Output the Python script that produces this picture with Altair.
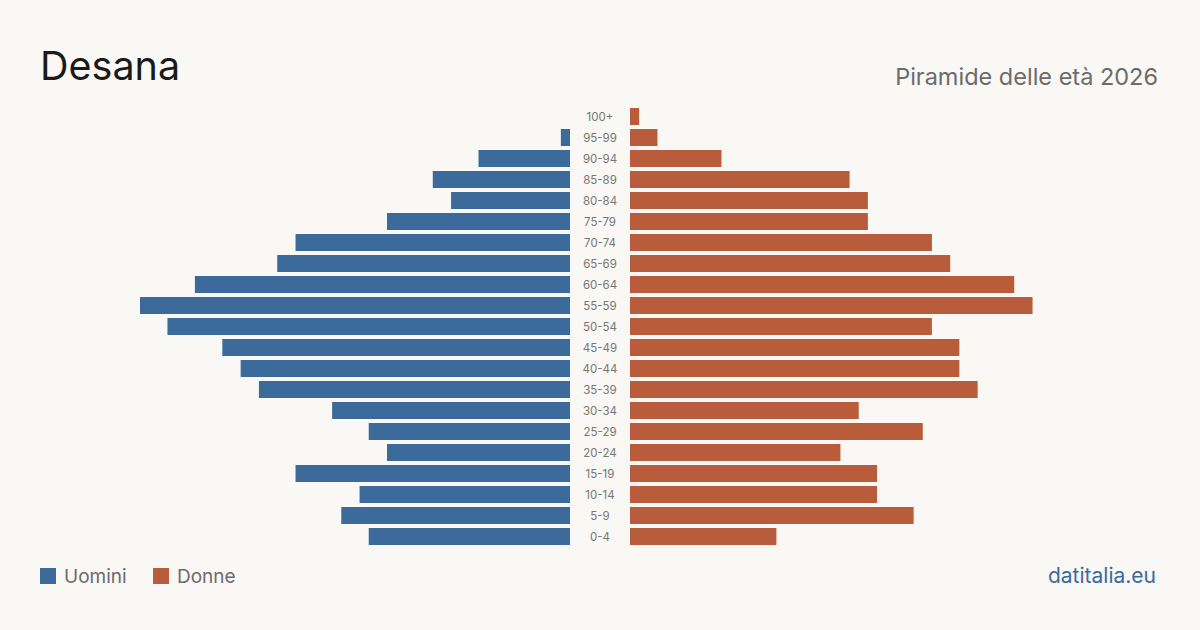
import altair as alt
import pandas as pd

# Age groups, from oldest (top) to youngest (bottom)
ages = ["100+", "95-99", "90-94", "85-89", "80-84", "75-79", "70-74", "65-69",
        "60-64", "55-59", "50-54", "45-49", "40-44", "35-39", "30-34", "25-29",
        "20-24", "15-19", "10-14", "5-9", "0-4"]
uomini = [0, 1, 10, 15, 13, 20, 30, 32, 41, 47, 44, 38, 36, 34, 26, 22, 20, 30, 23, 25, 22]
donne = [1, 3, 10, 24, 26, 26, 33, 35, 42, 44, 33, 36, 36, 38, 25, 32, 23, 27, 27, 31, 16]

BLUE = "#3b6a9b"
ORANGE = "#b95c3c"
BG = "#f9f8f4"
FONT = "Inter"

df = pd.DataFrame({"eta": ages, "uomini": uomini, "donne": donne})
vmax = max(max(uomini), max(donne))

y_enc = alt.Y("eta:N", sort=ages, axis=None,
              scale=alt.Scale(range=[106, 547], paddingInner=0.19, paddingOuter=0.095))

base = alt.Chart(df)

men = base.mark_bar(color=BLUE).encode(
    y=y_enc,
    x=alt.X("uomini:Q", axis=None, scale=alt.Scale(domain=[0, vmax], range=[570, 140])),
    x2=alt.datum(0),
)

women = base.mark_bar(color=ORANGE).encode(
    y=y_enc,
    x=alt.X("donne:Q", axis=None, scale=alt.Scale(domain=[0, vmax], range=[630, 1060])),
    x2=alt.datum(0),
)

labels = base.mark_text(font=FONT, fontSize=11.5, color="#777777",
                        align="center", baseline="middle", dy=1.5).encode(
    y=y_enc,
    x=alt.value(600),
    text="eta:N",
)

one = pd.DataFrame({"k": [0]})
ann = alt.Chart(one)

title = ann.mark_text(font=FONT, fontSize=39.5, color="#1a1a1a", align="left",
                      baseline="alphabetic").encode(
    x=alt.value(40), y=alt.value(80), text=alt.value("Desana"))

subtitle = ann.mark_text(font=FONT, fontSize=23.5, color="#6b6b6b", align="right",
                         baseline="alphabetic").encode(
    x=alt.value(1158), y=alt.value(85), text=alt.value("Piramide delle età 2026"))

source = ann.mark_text(font=FONT, fontSize=21, color="#3a6a9e", align="right",
                       baseline="alphabetic").encode(
    x=alt.value(1156), y=alt.value(583), text=alt.value("datitalia.eu"))

# Legend drawn by hand at the bottom left
legend_df = pd.DataFrame({
    "name": ["Uomini", "Donne"],
    "colore": [BLUE, ORANGE],
    "sx": [48, 161],
    "tx": [64, 177],
})
leg = alt.Chart(legend_df)
leg_sq = leg.mark_square(size=256, opacity=1, filled=True).encode(
    x=alt.X("sx:Q", scale=None), y=alt.value(576),
    color=alt.Color("colore:N", scale=None))
leg_tx = leg.mark_text(font=FONT, fontSize=19, color="#6b6b6b", align="left",
                       baseline="alphabetic").encode(
    x=alt.X("tx:Q", scale=None), y=alt.value(583), text="name:N")

chart = alt.layer(men, women, labels, title, subtitle, source, leg_sq, leg_tx).resolve_scale(
    x="independent"
).properties(
    width=1200, height=630,
    background=BG,
    padding=0,
    autosize=alt.AutoSizeParams(type="none"),
).configure_view(stroke=None)

chart.save("out.html", embed_options={"renderer": "svg", "actions": False})
